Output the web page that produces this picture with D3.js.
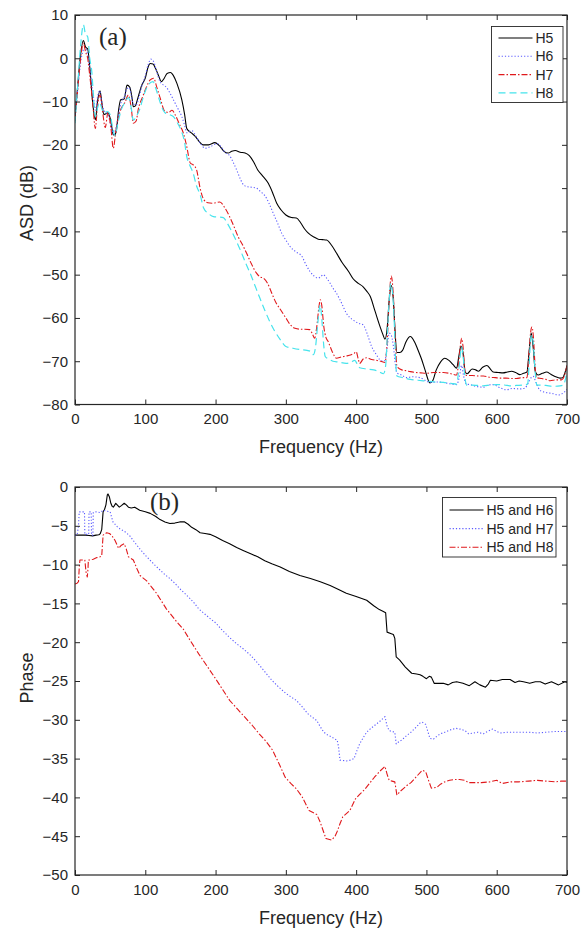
<!DOCTYPE html>
<html>
<head>
<meta charset="utf-8">
<script src="https://cdn.jsdelivr.net/npm/d3@7"></script>
<style>
  body { margin: 0; background: #fff; }
  svg text { font-family: "Liberation Sans", Arial, sans-serif; fill: #262626; }
</style>
</head>
<body>
<svg id="chart" width="581" height="932"></svg>
<script>
// ---- panel (a): ASD ----
const h5Freq = [0,4,8,12,15,18,21,25,29,32,35.6,38,41,44,47,51,54.5,57,59,62,65,70,74,78,81,83,86,88,95,100,104,107,111,115,118.6,123,127,131,136,140,145,152,156,159,166,172,177,182,190,199,206,212,218,223,228,235,242,248,254,260,266,275,281,287,293,300,308,315,321,327,332,340,346,352,358,365,372,380,389,396,403,410,415,420,427,434,438,441,444,447,450,453,455,458,462,466,471,477,483,488,493,498,505,509,514,520,526,532,538,543,546,549,552,555,558,565,570,574,580,586,591,595,602,609,615,621,627,633,638,643,646,649,652,655,659,665,671,677,684,690,694,697,700];
const h5Asd = [-13.5,-6,1,4.1,2.6,2.2,-2,-10,-14.2,-10,-7.5,-10,-13,-12.8,-12.6,-14.5,-17.7,-17.6,-16.5,-12,-9.6,-9.4,-6.2,-6.7,-9,-11.2,-11,-10,-6.2,-4.6,-2,-1.2,-1.3,-2.5,-3.9,-5.4,-4.6,-3.5,-3.3,-4,-5.8,-9.6,-13,-16.2,-17.3,-18.2,-19.3,-20,-20,-19.5,-20.3,-21.5,-21.9,-21.5,-21.3,-21.7,-21.9,-22.5,-23.9,-25.8,-27,-28.9,-31,-33.5,-35,-36.2,-36.8,-36.9,-38,-39.5,-40.4,-41.3,-41.8,-41.9,-42,-43.2,-45,-47.2,-49.2,-51,-52,-52.8,-53.8,-55,-58.5,-62,-63.8,-64.9,-62.6,-56,-52.5,-56,-62,-68,-68,-67.5,-65.5,-64.3,-65.5,-67.4,-69.5,-72,-75,-74.5,-72,-70.2,-69.3,-69.8,-70.8,-71.6,-69,-66.5,-68,-72.5,-72.9,-71.8,-72,-72.3,-71.4,-71,-71.8,-72.5,-72.6,-72.7,-72.5,-72.3,-72.6,-73.1,-72.8,-72.5,-68,-63.5,-67,-72.5,-73.2,-72.8,-72.5,-73,-73.6,-73.9,-73.8,-72.7,-71];

const h6Freq = [0,4,8,11,14,17,20,23,26,29,32,35,38,41,44,47,51,55,59,62,66,70,74,77,80,83,87,91,95,100,104,108,112,116,121,126,130,135,140,146,152,156,159,166,172,179,185,193,202,208,213,220,225,230,235,240,246,252,258,264,270,276,282,288,294,300,306,315,323,328,334,340,346,350,353,358,363,367,372,380,386,395,403,410,416,422,428,434,438,441,444,447,450,453,456,458,465,472,480,491,498,505,515,524,533,543,547,550,553,557,562,570,581,588,595,603,614,622,633,640,645,649,652,656,662,670,680,688,695,700];
const h6Asd = [-13,-7,-1,1.5,2.5,1.5,-1,-5,-8.5,-12,-9,-7.5,-10,-12,-12.5,-13,-15.5,-17.5,-15.5,-13,-10,-9,-7,-6.8,-8.5,-10.5,-10.8,-9,-6.5,-4,-1.5,-0.2,-0.8,-3,-5.4,-6.2,-6.7,-8,-9.6,-11.5,-13.5,-15.5,-17.2,-16.7,-18,-19.8,-20.8,-20.4,-19.7,-20.5,-21.7,-22.5,-24,-25.8,-27.8,-29.3,-29.7,-29.8,-30,-30.8,-31.7,-33.5,-35.8,-38,-40.4,-42,-43.5,-44.8,-45.8,-47.5,-49.2,-50.3,-50.8,-50.4,-50,-50.8,-52,-53.1,-54.3,-56.8,-58.9,-60.4,-61.2,-61.6,-63.8,-66.6,-68.3,-69.7,-70,-69.8,-67,-63.5,-64,-66.5,-71,-72.7,-73.2,-73.8,-73.6,-73.8,-74.4,-74.9,-74.8,-74.9,-75.2,-75.4,-73.5,-71,-73.5,-75.3,-75.4,-75.8,-76,-75.5,-75.4,-76,-76.6,-76.3,-76.4,-76.2,-75,-73.8,-73.5,-75,-76.8,-77.2,-77.5,-77.8,-77.3,-76.5];

const h7Freq = [0,4,8,12,15,18,21,25,29,32,35.6,39,43,47,51,54.5,58,62,66,71,76,80,83,87,90,96,102,107,112,116,121,128,133,138,143,149,154,159,164,168,173,178,183,189,195,200,206,213,220,226,232,238,244,251,258,263,268,274,280,286,292,300,306,313,320,327,334,338,341,344,347,349,351,354,357,360,366,372,379,386,393,397,400,403,405,410,415,422,429,435,441,444,447,450,453,456,458,465,472,477,485,492,500,510,517,524,533,543,546,549,550,552,555,557,565,573,581,590,598,605,613,620,628,636,643,646,649,650,652,655,657,664,670,676,684,692,696,700];
const h7Asd = [-14.5,-7,0,3.5,1.5,0,-4,-10,-16.2,-11,-8.5,-12,-16,-12.5,-16,-20.8,-17,-13.5,-11.5,-10.2,-8.5,-11.5,-15,-14.5,-11.8,-9,-6.5,-5,-4.6,-6.5,-9.1,-12.3,-12.5,-12,-13.2,-15.4,-17.2,-20.4,-24.2,-24.6,-25.8,-30,-32.6,-33.4,-33.5,-33.4,-33.2,-34.5,-36.6,-38.8,-41.2,-43,-45,-47.5,-49.6,-50.5,-50.8,-52,-54.3,-56.5,-58,-60,-61.5,-62.4,-62.6,-62.6,-62.7,-63.8,-64.7,-62,-57.5,-55.8,-57,-62,-64.5,-65.4,-67.8,-69.3,-69,-68.8,-68.5,-68.2,-67.8,-69.5,-70.5,-69.5,-69.2,-69.6,-69.8,-70,-70.3,-66,-56,-50.3,-55,-66,-71.2,-72,-72.2,-72.4,-72.6,-72.7,-72.8,-72.6,-72.6,-72.6,-72.8,-73.2,-70,-65.5,-64.7,-66.5,-72.5,-73.3,-73.3,-73.4,-73.4,-73.7,-73.8,-73.9,-73.9,-74,-74,-73.8,-73.8,-68,-62.5,-62.1,-64,-72,-73.8,-74,-74.2,-74.5,-74.3,-74.3,-73.5,-71];

const h8Freq = [0,4,8,12,15,18,21,24,26,29,32,35,38,41,46,50,53,57,61,66,71,76,80,83,87,92,98,104,111,115,120,124,128,134,140,146,152,156,159,163,168,173,178,183,190,197,204,211,217,223,230,237,243,249,256,263,270,277,284,292,300,310,320,330,336,339,342,345,348,349,351,354,356,361,367,375,386,393,398,402,405,415,425,432,439,442,445,448,449,451,454,456,458,467,477,488,500,512,524,535,543,546,549,550,552,555,557,565,573,581,590,600,611,620,628,638,644,646,649,650,652,655,657,662,670,680,690,695,698,700];
const h8Asd = [-15,-6,3,7.7,5.5,5,0,-3.3,-8,-13.5,-11.5,-10.2,-11.5,-12.6,-12.3,-13,-15.5,-17.9,-15,-11.8,-10.2,-9.1,-11.5,-14.3,-13.5,-11.8,-8.5,-6.2,-5.4,-7,-9.6,-11.5,-12.6,-13,-13.5,-15,-17.1,-19.5,-22.7,-24.6,-26.5,-29.5,-31.5,-34.6,-35.9,-36.6,-36.7,-36.8,-38.2,-40,-42.4,-45,-47.4,-49.6,-52.5,-55.4,-58.2,-60.8,-63,-65,-66.6,-67,-67.3,-67.5,-67.8,-68.5,-67,-62,-57.5,-57,-60,-66.5,-68.9,-69.5,-70,-70.2,-70.5,-70.2,-69.8,-70.8,-71.5,-71.8,-72,-72.4,-72.9,-71,-62,-53.5,-52,-53,-60,-69,-73.4,-73.8,-74.2,-74.4,-74.6,-74.8,-74.9,-75.1,-75.3,-72,-67.5,-66.6,-68.5,-74,-75.5,-75.5,-75.6,-75.7,-75.5,-75.4,-75.5,-75.7,-75.6,-75.5,-75.3,-71,-64,-63.9,-66,-73,-75.5,-75.5,-75.6,-75.8,-75.7,-75.5,-74,-72.5];

// ---- panel (b): phase ----
const p56Freq = [0,5,10,15,20,25,30,34,36,38,40,42,44,46,47,49,51,53,54.5,56,58,60,63,66,70,73,76,80,85,92,100,107,115,121,128,135,142,149,156,161,166,172,178,185,192,200,210,220,230,240,250,260,270,280,292,305,320,335,349,363,375,386,400,415,425,433,438,442,443,444,450,453,455,457,462,470,479,486,491,495,500,504,507,511,518,524,531,537,543,552,561,569,576,584,588,591,600,608,619,626,632,638,647,655,662,669,678,688,697,700];
const p56Phase = [-6.2,-6.2,-6.2,-6.2,-6.25,-6.3,-6.2,-6.15,-6,-5.5,-3.2,-2.9,-2.3,-1,-0.9,-1.3,-2.1,-2.5,-2.6,-2.4,-2.1,-2.3,-2.6,-2.4,-2.1,-2.3,-2.6,-2.7,-2.6,-3,-3.2,-3.4,-3.8,-4.2,-4.5,-4.7,-4.65,-4.5,-4.5,-4.8,-5.2,-5.5,-5.9,-6,-6.1,-6.4,-6.9,-7.3,-7.8,-8.2,-8.6,-9,-9.5,-9.9,-10.3,-10.9,-11.4,-11.8,-12.2,-12.7,-13.2,-13.7,-14.1,-14.6,-15.3,-15.8,-16,-16.2,-17.5,-18.7,-18.9,-19,-19.5,-21.9,-22.3,-23.2,-24,-24.1,-24.2,-24.4,-24.7,-24.4,-24.5,-25.3,-25.3,-25.3,-25.5,-25.2,-25.1,-25.3,-25.6,-25.1,-25.5,-25.8,-25.4,-24.9,-25,-24.8,-24.8,-25.2,-25,-25.1,-25.3,-25.1,-25.1,-25.4,-25.1,-25.5,-25.1,-25.2];

const p57Freq = [0,3,5,6,10,13.5,14,18,19.5,20,23,23.5,25.5,26,30,36,40,45,50,54,60,64,70,73,78,83,88,92.5,100,107,114,121,128,135,142,149,156,164,170,176,185,193,200,210,220,230,240,250,260,270,280,290,300,308,315,323,331,338,344,349,354,360,365,370,373,375,377,386,392,397,401,405,410,415,421,428,435,441,444,447,451,455,457,461,465,471,478,486,491,494,499,502,505,510,515,520,526,534,542,548,555,560,567,573,581,587,594,600,605,615,631,645,658,670,684,692,700];
const p57Phase = [-6.2,-6.2,-5,-3.2,-3.2,-3.2,-6.1,-6.1,-6.1,-3.2,-3.2,-6.2,-6.2,-3.3,-3.2,-3.3,-3,-3.1,-3.2,-4.5,-5.1,-5.4,-5.7,-5.9,-6.3,-6.9,-7.5,-8,-8.8,-9.45,-10.1,-10.7,-11.3,-11.8,-12.4,-13.1,-13.7,-14.4,-15,-15.7,-16.4,-17,-17.5,-18.5,-19.4,-20.2,-20.9,-21.7,-22.7,-23.8,-24.9,-25.8,-26.6,-27.1,-27.5,-28.3,-29.2,-29.7,-30.1,-30.9,-31.6,-32,-32.2,-32.5,-32.6,-33.5,-35.2,-35.3,-35.2,-35,-34,-33.1,-32.3,-31.6,-31.1,-30.6,-30.1,-29.6,-30.8,-31.4,-31.5,-31.6,-33.1,-32.8,-32.6,-32.1,-31.6,-30.9,-30.4,-30.3,-30.6,-31.5,-32.4,-32.5,-32.1,-31.8,-31.6,-31.3,-31.1,-31.2,-31.4,-31.8,-31.7,-31.6,-31.8,-31.5,-31.2,-31.5,-31.7,-31.6,-31.6,-31.6,-31.7,-31.6,-31.5,-31.5,-31.5];

const p58Freq = [0,3,5,6,7,10,14,15.6,17.5,18.5,19,21,26,31,35.6,38,40,45,49,52,57,62,66,70,73,76,83,88,92.5,102,109,116,123,130,138,145,154,164,176,188,200,210,220,231,241,252,262,272,281,290,299,307,315,323,333,344,348,352,357,365,370,373,377,381,391,399,405,412,419,426,434,441,444,447,451,455,458,463,468,473,478,486,494,499,503,507,515,520,526,533,539,547,555,560,570,578,590,600,608,620,631,645,658,670,684,692,700];
const p58Phase = [-12.5,-12.4,-12.2,-10.5,-9.4,-9.4,-9.4,-10.9,-11.6,-10.5,-9.4,-9.4,-9.3,-9.1,-9,-8.9,-6.2,-5.9,-6,-6.2,-6.9,-7.9,-7.5,-7.3,-8,-9,-9.4,-10.5,-11.4,-12.1,-12.9,-13.7,-14.7,-15.7,-16.6,-17.4,-18.3,-19.8,-21.5,-23.1,-24.7,-26.1,-27.5,-28.6,-29.6,-30.7,-31.8,-32.8,-33.9,-35.6,-37.4,-38.2,-38.9,-39.9,-41.7,-42.2,-43,-44,-45.3,-45.5,-45,-44.4,-43.4,-42.5,-41.7,-40.2,-39.6,-39,-38.2,-37.4,-36.6,-36,-37,-37.8,-37.9,-38,-39.7,-39.2,-38.8,-38.4,-38.1,-37.3,-36.5,-36.7,-37.8,-38.8,-38.7,-38.3,-38,-37.8,-37.7,-37.7,-37.8,-38.1,-38.1,-38.1,-38,-37.8,-38.2,-38,-38,-37.9,-37.8,-37.9,-38,-37.9,-37.9];

const freqTicks = [0, 100, 200, 300, 400, 500, 600, 700];
const asdTicks = [10, 0, -10, -20, -30, -40, -50, -60, -70, -80];
const phaseTicks = [0, -5, -10, -15, -20, -25, -30, -35, -40, -45, -50];

const svg = d3.select("#chart");
const left = 75, right = 567;

function drawPanel({ top, bottom, yDomain, yTicks, yLabel, labelY, tag, tagX, tagY, series, legend, curve }) {
  const x = d3.scaleLinear().domain([0, 700]).range([left, right]);
  const y = d3.scaleLinear().domain(yDomain).range([bottom, top]);
  const g = svg.append("g");
  const clipId = "clip" + top;

  g.append("clipPath").attr("id", clipId)
    .append("rect")
    .attr("x", left).attr("y", top)
    .attr("width", right - left).attr("height", bottom - top);

  const line = d3.line()
    .x(d => x(d[0]))
    .y(d => y(d[1]))
    .curve(curve);

  g.append("g")
    .attr("clip-path", `url(#${clipId})`)
    .selectAll("path")
    .data(series)
    .join("path")
    .attr("fill", "none")
    .attr("stroke", d => d.color)
    .attr("stroke-width", d => d.width)
    .attr("stroke-dasharray", d => d.dash)
    .attr("stroke-linejoin", "round")
    .attr("d", d => line(d3.zip(d.freq, d.vals)));

  // axes, ticks point inwards like MATLAB
  const styleAxis = sel => {
    sel.attr("font-size", 15).attr("font-family", null);
    sel.select(".domain").remove();
    sel.selectAll(".tick line").attr("stroke", "#262626");
  };
  g.append("g").attr("transform", `translate(0,${bottom})`)
    .call(d3.axisBottom(x).tickValues(freqTicks).tickSizeInner(-5).tickSizeOuter(0).tickPadding(9))
    .call(styleAxis);
  g.append("g").attr("transform", `translate(0,${top})`)
    .call(d3.axisTop(x).tickValues(freqTicks).tickSizeInner(-5).tickSizeOuter(0).tickFormat(""))
    .call(styleAxis);
  g.append("g").attr("transform", `translate(${left},0)`)
    .call(d3.axisLeft(y).tickValues(yTicks).tickSizeInner(-5).tickSizeOuter(0).tickPadding(7))
    .call(styleAxis);
  g.append("g").attr("transform", `translate(${right},0)`)
    .call(d3.axisRight(y).tickValues(yTicks).tickSizeInner(-5).tickSizeOuter(0).tickFormat(""))
    .call(styleAxis);

  g.append("rect")
    .attr("x", left).attr("y", top)
    .attr("width", right - left).attr("height", bottom - top)
    .attr("fill", "none")
    .attr("stroke", "#262626")
    .attr("stroke-width", 1.2);

  g.append("text")
    .attr("x", (left + right) / 2)
    .attr("y", bottom + 48.5)
    .attr("text-anchor", "middle")
    .attr("font-size", 18)
    .text("Frequency (Hz)");

  g.append("text")
    .attr("transform", `translate(33,${labelY}) rotate(-90)`)
    .attr("text-anchor", "middle")
    .attr("font-size", 18)
    .text(yLabel);

  g.append("text")
    .attr("x", tagX).attr("y", tagY)
    .attr("font-size", 25)
    .style("font-family", "'Liberation Serif', 'Times New Roman', serif")
    .text(tag);

  // legend box
  const lg = g.append("g").attr("transform", `translate(${legend.x},${legend.y})`);
  lg.append("rect")
    .attr("width", legend.w).attr("height", legend.h)
    .attr("fill", "#fff")
    .attr("stroke", "#262626")
    .attr("stroke-width", 0.9);
  const item = lg.selectAll("g.item")
    .data(series)
    .join("g")
    .attr("class", "item")
    .attr("transform", (d, i) => `translate(0,${legend.first + i * legend.step})`);
  item.append("line")
    .attr("x1", 7).attr("x2", 41)
    .attr("stroke", d => d.color)
    .attr("stroke-width", d => d.width)
    .attr("stroke-dasharray", d => d.dash);
  item.append("text")
    .attr("x", 44).attr("dy", "0.36em")
    .attr("font-size", 14)
    .text(d => d.name);
}

const blue = "#5a5aff", red = "#e0191c", cyan = "#45e3ec";

drawPanel({
  top: 15, bottom: 404.5,
  yDomain: [-80, 10], yTicks: asdTicks,
  yLabel: "ASD (dB)", labelY: 203,
  tag: "(a)", tagX: 99, tagY: 45,
  curve: d3.curveMonotoneX,
  series: [
    { name: "H5", freq: h5Freq, vals: h5Asd, color: "#000", width: 1.1, dash: null },
    { name: "H6", freq: h6Freq, vals: h6Asd, color: blue, width: 1.1, dash: "1.2,2" },
    { name: "H7", freq: h7Freq, vals: h7Asd, color: red, width: 1.1, dash: "6,2,1.5,2" },
    { name: "H8", freq: h8Freq, vals: h8Asd, color: cyan, width: 1.2, dash: "7,4" }
  ],
  legend: { x: 491.5, y: 26.5, w: 71.5, h: 76, first: 11.5, step: 18.3 }
});

drawPanel({
  top: 487, bottom: 875,
  yDomain: [-50, 0], yTicks: phaseTicks,
  yLabel: "Phase", labelY: 678,
  tag: "(b)", tagX: 150, tagY: 510,
  curve: d3.curveLinear,
  series: [
    { name: "H5 and H6", freq: p56Freq, vals: p56Phase, color: "#000", width: 1.1, dash: null },
    { name: "H5 and H7", freq: p57Freq, vals: p57Phase, color: blue, width: 1.1, dash: "1.2,2" },
    { name: "H5 and H8", freq: p58Freq, vals: p58Phase, color: red, width: 1.1, dash: "6,2,1.5,2" }
  ],
  legend: { x: 442.5, y: 497.5, w: 113.5, h: 59.5, first: 12.5, step: 18.6 }
});
</script>
</body>
</html>
